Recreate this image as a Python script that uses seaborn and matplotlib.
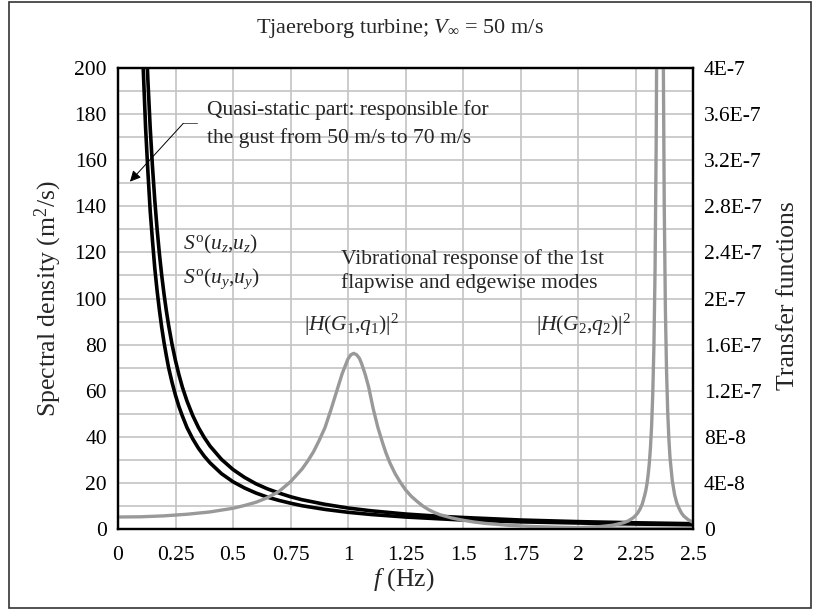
import numpy as np
import matplotlib
matplotlib.use("Agg")
import matplotlib.pyplot as plt
import seaborn as sns
from matplotlib.patches import Rectangle

# Frequency grid (Hz) for the turbulence spectra
freq_spec = [0.10, 0.11, 0.12, 0.13, 0.14, 0.15, 0.16, 0.17, 0.18, 0.19, 0.20,
             0.21, 0.22, 0.235, 0.25, 0.265, 0.28, 0.30, 0.325, 0.35, 0.375,
             0.40, 0.45, 0.50, 0.55, 0.60, 0.65, 0.70, 0.75, 0.80, 0.90, 1.00,
             1.10, 1.25, 1.40, 1.50, 1.75, 2.00, 2.25, 2.50]
# Spectral densities (m^2/s)
s_uz = [288, 250, 219, 194.6, 174, 157, 142.5, 130.1, 119.4, 110.1, 102,
        94.8, 88.4, 80.1, 73, 66.9, 61.5, 55.5, 49.2, 44, 39.7,
        36, 30.2, 25.8, 22.4, 19.6, 17.4, 15.6, 14.0, 12.7, 10.7, 9.1,
        7.9, 6.5, 5.5, 5.0, 3.9, 3.2, 2.7, 2.3]
s_uy = [229, 199, 174, 155, 138, 125, 113, 103.4, 95, 87.5, 81,
        75.3, 70, 63.6, 58, 53.1, 49, 44, 39.1, 35, 31.6,
        28.7, 24, 20.5, 17.8, 15.6, 13.8, 12.4, 11.2, 10.1, 8.5, 7.25,
        6.3, 5.2, 4.4, 3.9, 3.1, 2.6, 2.15, 1.8]

# |H(G1,q1)|^2, first flapwise mode (units of 1E-8)
freq_h1 = [0.00, 0.10, 0.20, 0.30, 0.40, 0.50, 0.55, 0.60, 0.65, 0.70, 0.75,
           0.80, 0.825, 0.85, 0.875, 0.90, 0.925, 0.95, 0.975, 1.00, 1.0125,
           1.025, 1.0375, 1.05, 1.06, 1.075, 1.09, 1.11, 1.13, 1.15, 1.165,
           1.183, 1.205, 1.226, 1.25, 1.275, 1.30, 1.325, 1.35, 1.375, 1.40,
           1.45, 1.50, 1.55, 1.60, 1.70, 1.80, 1.90, 2.00, 2.20, 2.50]
h1_e8 = [1.04, 1.06, 1.14, 1.28, 1.48, 1.80, 2.04, 2.32, 2.72, 3.26, 4.10,
         5.20, 5.90, 6.70, 7.70, 8.80, 10.3, 11.9, 13.5, 14.76, 15.12,
         15.24, 15.12, 14.8, 14.3, 13.4, 12.3, 10.4, 8.8, 7.5, 6.6,
         5.7, 4.8, 4.1, 3.4, 2.84, 2.40, 2.0, 1.68, 1.44, 1.24,
         0.96, 0.76, 0.60, 0.48, 0.32, 0.22, 0.16, 0.12, 0.07, 0.04]

# |H(G2,q2)|^2, first edgewise mode (units of 1E-8)
freq_h2 = [1.80, 1.90, 2.00, 2.10, 2.15, 2.20, 2.22, 2.24, 2.25, 2.26, 2.27,
           2.28, 2.29, 2.295, 2.30, 2.305, 2.31, 2.315, 2.32, 2.325, 2.33,
           2.335, 2.34, 2.345, 2.35, 2.3565, 2.36, 2.365, 2.37, 2.375, 2.38,
           2.385, 2.39, 2.395, 2.40, 2.41, 2.42, 2.43, 2.44, 2.45, 2.46,
           2.48, 2.50]
h2_e8 = [0.053, 0.074, 0.116, 0.216, 0.326, 0.554, 0.718, 0.974, 1.16, 1.40, 1.74,
         2.20, 2.94, 3.35, 3.94, 4.70, 5.7, 7.05, 8.94, 11.7, 15.8,
         22.4, 33.6, 53, 84.8, 118, 106, 70.6, 43.6, 28, 19,
         13.7, 10.2, 7.86, 6.2, 4.18, 2.98, 2.23, 1.76, 1.38, 1.12,
         0.79, 0.58]

x_ticks = [0, 0.25, 0.5, 0.75, 1, 1.25, 1.5, 1.75, 2, 2.25, 2.5]
x_tick_labels = ["0", "0.25", "0.5", "0.75", "1", "1.25", "1.5", "1.75", "2", "2.25", "2.5"]
left_ticks = [0, 20, 40, 60, 80, 100, 120, 140, 160, 180, 200]
right_ticks = [0, 4e-8, 8e-8, 1.2e-7, 1.6e-7, 2e-7, 2.4e-7, 2.8e-7, 3.2e-7, 3.6e-7, 4e-7]
right_tick_labels = ["0", "4E-8", "8E-8", "1.2E-7", "1.6E-7", "2E-7", "2.4E-7",
                     "2.8E-7", "3.2E-7", "3.6E-7", "4E-7"]

sns.set_theme(style="white")
plt.rcParams["font.family"] = ["Liberation Serif", "DejaVu Serif"]
plt.rcParams["mathtext.fontset"] = "custom"
plt.rcParams["mathtext.rm"] = "Liberation Serif"
plt.rcParams["mathtext.it"] = "Liberation Serif:italic"
plt.rcParams["mathtext.bf"] = "Liberation Serif:bold"

W, H = 814, 612
fig = plt.figure(figsize=(W / 100, H / 100), dpi=100)
fig.patch.set_facecolor("white")

x0, x1, y0, y1 = 118, 693, 68, 529
ax = fig.add_axes([x0 / W, 1 - y1 / H, (x1 - x0) / W, (y1 - y0) / H])

grid_c = "#c4c4c4"
for xv in x_ticks[1:-1]:
    ax.axvline(xv, color=grid_c, lw=1.2, zorder=0)
for yv in range(10, 200, 10):
    ax.axhline(yv, color=grid_c, lw=1.2, zorder=0)

sns.lineplot(x=freq_spec, y=s_uz, ax=ax, color="black", linewidth=2.6,
             sort=False, estimator=None)
sns.lineplot(x=freq_spec, y=s_uy, ax=ax, color="black", linewidth=2.6,
             sort=False, estimator=None)

ax.set_xlim(0, 2.5)
ax.set_ylim(0, 200)
ax.set_xticks(x_ticks)
ax.set_xticklabels(x_tick_labels)
ax.set_yticks(left_ticks)
ax.tick_params(axis="both", length=0, labelsize=15.5, colors="black")
ax.tick_params(axis="x", pad=12)
ax.tick_params(axis="y", pad=8)
ax.set_xlabel("")
ax.set_ylabel("")
for sp in ax.spines.values():
    sp.set_color("black")
    sp.set_linewidth(1.6)

ax2 = ax.twinx()
sns.lineplot(x=freq_h1, y=np.array(h1_e8) * 1e-8, ax=ax2, color="#999999",
             linewidth=2.4, sort=False, estimator=None)
sns.lineplot(x=freq_h2, y=np.array(h2_e8) * 1e-8, ax=ax2, color="#999999",
             linewidth=2.4, sort=False, estimator=None)
ax2.set_ylim(0, 4e-7)
ax2.set_yticks(right_ticks)
ax2.set_yticklabels(right_tick_labels)
ax2.tick_params(axis="y", length=0, labelsize=15.5, pad=8, colors="black")
ax2.set_ylabel("")
ax2.grid(False)
for sp in ax2.spines.values():
    sp.set_color("black")
    sp.set_linewidth(1.6)

# Annotations
ax.text(0.387, 181.8, "Quasi-static part: responsible for", fontsize=15.5,
        va="center", ha="left")
ax.text(0.387, 169.6, "the gust from 50 m/s to 70 m/s", fontsize=15.5,
        va="center", ha="left")
ax.plot([0.284, 0.342], [176, 176], color="#555555", lw=0.7)
ax.annotate("", xy=(0.052, 150.7), xytext=(0.284, 176),
            arrowprops=dict(arrowstyle="-|>", color="black", lw=0.7,
                            mutation_scale=16, shrinkA=0, shrinkB=0))
ax.text(0.283, 123.5, r"$S^{\mathrm{o}}(u_z{,}u_z)$", fontsize=15.5, va="center", ha="left")
ax.text(0.283, 108.5, r"$S^{\mathrm{o}}(u_y{,}u_y)$", fontsize=15.5, va="center", ha="left")
ax.text(0.97, 117.3, "Vibrational response of the 1st", fontsize=15.5,
        va="center", ha="left")
ax.text(0.97, 106.5, "flapwise and edgewise modes", fontsize=15.5,
        va="center", ha="left")
ax.text(0.809, 88.5, r"$|H(G_1{,}q_1)|^2$", fontsize=15.5, va="center", ha="left")
ax.text(1.817, 88.5, r"$|H(G_2{,}q_2)|^2$", fontsize=15.5, va="center", ha="left")

# Title and axis labels
fig.text(400 / W, 1 - 28 / H, r"Tjaereborg turbine; $V_\infty$ = 50 m/s",
         ha="center", va="center", fontsize=16)
fig.text(48 / W, 1 - 299 / H, "Spectral density (m$^2$/s)", rotation=90,
         ha="center", va="center", fontsize=18.5)
fig.text(788 / W, 1 - 296 / H, "Transfer functions", rotation=90,
         ha="center", va="center", fontsize=18.5)
fig.text(404 / W, 1 - 580 / H, r"$f$ (Hz)", ha="center", va="center", fontsize=18.5)

# Outer frame
fig.patches.append(Rectangle((9 / W, 1 - 608 / H), (811 - 9) / W, (608 - 2) / H,
                             transform=fig.transFigure, fill=False,
                             edgecolor="#333333", lw=1.2))

fig.savefig("out.png", dpi=100, facecolor="white")
